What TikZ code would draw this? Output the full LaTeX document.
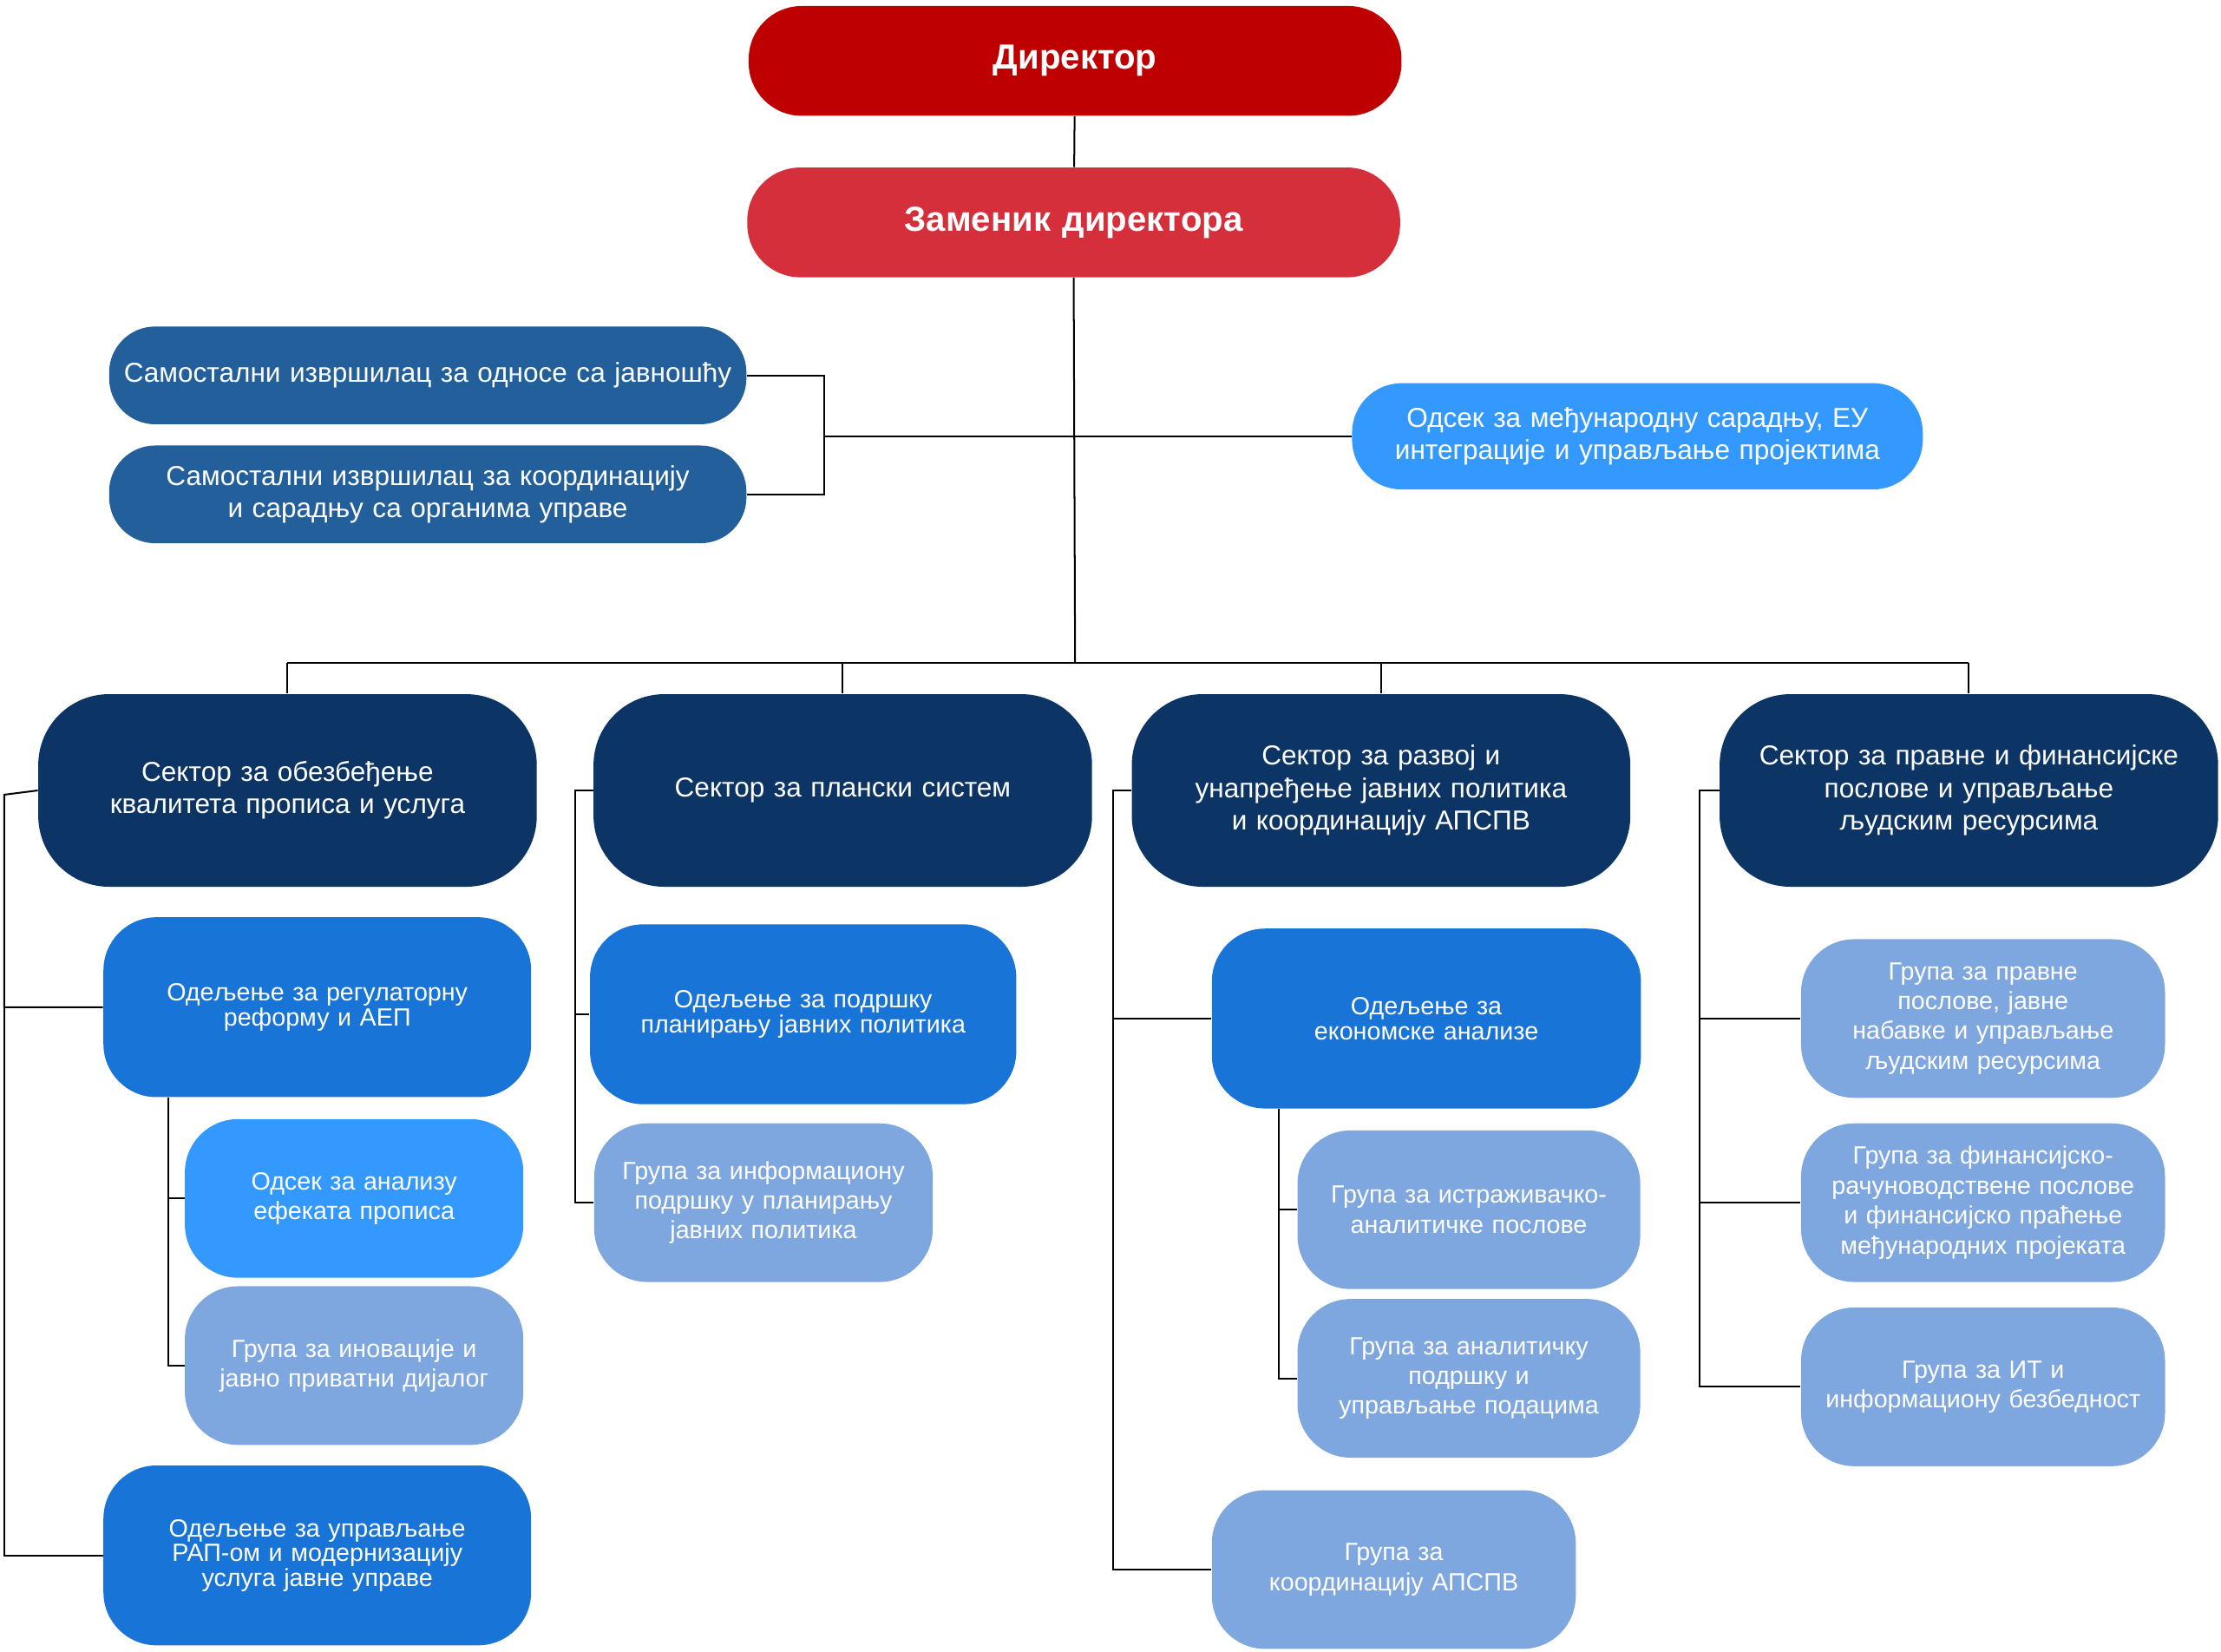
\documentclass[tikz,border=0pt]{standalone}
\usepackage{fontspec}
\setmainfont{Liberation Sans}
\usetikzlibrary{positioning}
\definecolor{dirred}{HTML}{BE0000}
\definecolor{depred}{HTML}{D52F3B}
\definecolor{sidblue}{HTML}{225F9B}
\definecolor{lightblue}{HTML}{3399FF}
\definecolor{secblue}{HTML}{0C3566}
\definecolor{depblue}{HTML}{1874D6}
\definecolor{grpblue}{HTML}{7FA7DF}

\begin{document}
\begin{tikzpicture}[x=0.02cm, y=-0.02cm,
                    box/.style={rounded corners=0.75cm, text=white, align=center, inner sep=0pt, font=\fontsize{11}{13}\selectfont},
                    top/.style={box, minimum width=9.22cm, minimum height=1.55cm, text width=8.8cm, font=\fontsize{14}{16}\selectfont\bfseries},
                    solo/.style={box, fill=sidblue, minimum width=9cm, minimum height=1.38cm, text width=8.8cm, rounded corners=0.65cm},
                    sector/.style={box, fill=secblue, minimum width=7.04cm, minimum height=2.72cm, text width=6.7cm, rounded corners=1cm},
                    unit/.style={box, fill=depblue, minimum width=6.04cm, minimum height=2.54cm, text width=5.6cm, font=\fontsize{10}{10}\selectfont},
                    group/.style={box, fill=grpblue, minimum width=4.8cm, minimum height=2.24cm, text width=4.6cm, font=\fontsize{10}{12}\selectfont},
                    link/.style={draw=black, line width=0.7pt}]
    \useasboundingbox (0,0) rectangle (1568,1166);

    \node[top, fill=dirred] (dir) at (759,43) {Директор};
    \node[top, fill=depred] (dep) at (758,157) {Заменик директора};

    \node[solo] (pr) at (302,265) {Самостални извршилац за односе са јавношћу};
    \node[solo] (coord) at (302,349) {Самостални извршилац за координацију и сарадњу са органима управе};
    \node[box, fill=lightblue, minimum width=8.06cm, minimum height=1.5cm, text width=7.6cm, rounded corners=0.7cm] (intl) at (1156,308) {Одсек за међународну сарадњу, ЕУ интеграције и управљање пројектима};

    \node[sector] (qual) at (203,558) {Сектор за обезбеђење квалитета прописа и услуга};
    \node[sector] (plan) at (595,558) {Сектор за плански систем};
    \node[sector] (dev) at (975,558) {Сектор за развој и унапређење јавних политика и координацију АПСПВ};
    \node[sector] (legal) at (1390,558) {Сектор за правне и финансијске послове и управљање људским ресурсима};

    \node[unit] (reg) at (224,711) {Одељење за регулаторну реформу и АЕП};
    \node[group, fill=lightblue, minimum width=4.78cm] (aep) at (250,846) {Одсек за анализу ефеката прописа};
    \node[group, minimum width=4.78cm] (innov) at (250,964) {Група за иновације и јавно приватни дијалог};
    \node[unit] (rap) at (224,1098) {Одељење за управљање РАП-ом и модернизацију услуга јавне управе};

    \node[unit, minimum width=6.02cm] (plsup) at (567,716) {Одељење за подршку планирању јавних политика};
    \node[group, minimum width=4.78cm] (plit) at (539,849) {Група за информациону подршку у планирању јавних политика};

    \node[unit, minimum width=6.06cm] (econ) at (1007,719) {Одељење за\\ економске анализе};
    \node[group, minimum width=4.84cm] (res) at (1037,854) {Група за истраживачко-аналитичке послове};
    \node[group, minimum width=4.84cm] (data) at (1037,973) {Група за аналитичку подршку и управљање подацима};
    \node[group, minimum width=5.14cm] (apspv) at (984,1108) {Група за координацију АПСПВ};

    \node[group, minimum width=5.14cm] (law) at (1400,719) {Група за правне послове, јавне набавке и управљање људским ресурсима};
    \node[group, minimum width=5.14cm] (fin) at (1400,849) {Група за финансијско-рачуноводствене послове и финансијско праћење међународних пројеката};
    \node[group, minimum width=5.14cm] (it) at (1400,979) {Група за ИТ и информациону безбедност};

    % top chain
    \draw[link] (dir) -- (dep);
    \draw[link] (dep.south) -- (759,468) coordinate (bus);
    \draw[link] (203,468) -- (1390,468);
    \foreach \s in {qual, plan, dev, legal}
        \draw[link] (\s.north) -- (\s.north |- bus);
    \draw[link] (582,308) -- (intl.west);
    \draw[link] (pr.east) -| (582,308) |- (coord.east);

    % sector branches
    \draw[link] (qual.west) -- (3,561) |- (reg.west);
    \draw[link] (3,711) |- (rap.west);
    \draw[link] (reg.south -| 119,0) |- (aep.west);
    \draw[link] (119,846) |- (innov.west);

    \draw[link] (plan.west) -| (406,716) -- (plsup.west);
    \draw[link] (406,716) |- (plit.west);

    \draw[link] (dev.west) -| (786,719) -- (econ.west);
    \draw[link] (786,719) |- (apspv.west);
    \draw[link] (econ.south -| 903,0) |- (res.west);
    \draw[link] (903,854) |- (data.west);

    \draw[link] (legal.west) -| (1200,719) -- (law.west);
    \draw[link] (1200,719) |- (fin.west);
    \draw[link] (1200,849) |- (it.west);
\end{tikzpicture}
\end{document}
